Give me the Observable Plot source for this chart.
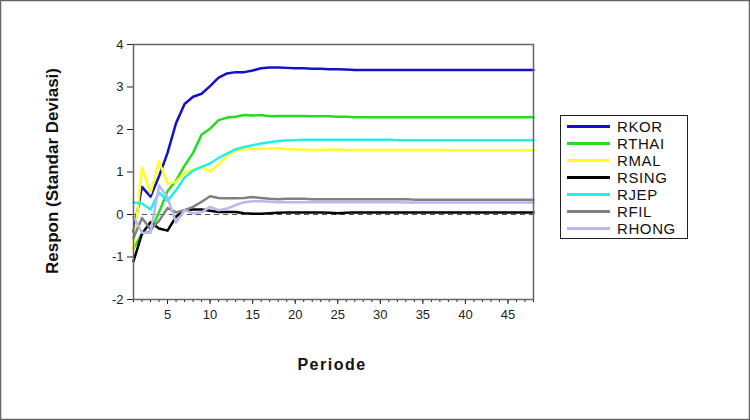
<!DOCTYPE html>
<html><head><meta charset="utf-8">
<script src="https://cdn.jsdelivr.net/npm/d3@7"></script>
<script src="https://cdn.jsdelivr.net/npm/@observablehq/plot@0.6"></script>
<style>
body{margin:0;background:#fff;font-family:"Liberation Sans",Arial,sans-serif}
#wrap{position:relative;width:750px;height:420px}
#legend{position:absolute;left:560px;top:115px;width:128px;height:124px;border:1px solid #222;background:#fff;box-sizing:border-box}
.row{position:absolute;left:6px;height:17px;display:flex;align-items:center;font-size:15px;letter-spacing:0.6px;color:#111;line-height:17px}
.sw{width:43px;height:3px;margin-right:7px}
</style></head><body><div id="wrap"></div>
<script>
const periods = [1,2,3,4,5,6,7,8,9,10,11,12,13,14,15,16,17,18,19,20,21,22,23,24,25,26,27,28,29,30,31,32,33,34,35,36,37,38,39,40,41,42,43,44,45,46,47,48];
const seriesNames = ["RKOR","RTHAI","RMAL","RSING","RJEP","RFIL","RHONG"];
const seriesColors = ["#1212c8","#22dd22","#ffff22","#000000","#22eeee","#808080","#b8b8f0"];
const xTickLabels = [5,10,15,20,25,30,35,40,45];
const yTickLabels = [-2,-1,0,1,2,3,4];

const RKOR  = [-0.40,0.65,0.42,0.90,1.45,2.15,2.60,2.77,2.84,3.02,3.22,3.32,3.35,3.35,3.39,3.44,3.46,3.46,3.45,3.44,3.44,3.43,3.43,3.42,3.42,3.41,3.40,3.40,3.40,3.40,3.40,3.40,3.40,3.40,3.40,3.40,3.40,3.40,3.40,3.40,3.40,3.40,3.40,3.40,3.40,3.40,3.40,3.40];
const RTHAI = [-0.80,-0.45,-0.40,0.05,0.55,0.80,1.15,1.45,1.88,2.02,2.22,2.28,2.30,2.34,2.33,2.34,2.31,2.32,2.32,2.32,2.32,2.31,2.31,2.31,2.30,2.30,2.29,2.29,2.29,2.29,2.29,2.29,2.29,2.29,2.29,2.29,2.29,2.29,2.29,2.29,2.29,2.29,2.29,2.29,2.29,2.29,2.29,2.29];
const RMAL  = [-0.80,1.10,0.50,1.25,0.72,0.77,0.98,1.06,1.10,1.02,1.18,1.38,1.50,1.54,1.54,1.55,1.55,1.56,1.54,1.53,1.53,1.52,1.52,1.53,1.53,1.52,1.52,1.52,1.52,1.52,1.52,1.52,1.52,1.52,1.52,1.52,1.52,1.51,1.51,1.51,1.51,1.51,1.51,1.51,1.51,1.51,1.51,1.51];
const RSING = [-1.10,-0.45,-0.18,-0.33,-0.38,-0.05,0.10,0.12,0.12,0.09,0.06,0.06,0.06,0.03,0.02,0.02,0.03,0.04,0.05,0.05,0.05,0.05,0.05,0.04,0.03,0.04,0.05,0.05,0.05,0.05,0.05,0.05,0.05,0.05,0.05,0.05,0.05,0.05,0.05,0.05,0.05,0.05,0.05,0.05,0.05,0.05,0.05,0.05];
const RJEP  = [0.28,0.26,0.12,0.52,0.32,0.57,0.87,1.03,1.12,1.20,1.33,1.43,1.53,1.59,1.63,1.67,1.70,1.73,1.74,1.75,1.76,1.76,1.76,1.76,1.76,1.76,1.76,1.76,1.76,1.76,1.76,1.75,1.75,1.75,1.75,1.75,1.75,1.75,1.75,1.75,1.75,1.75,1.75,1.75,1.75,1.75,1.75,1.75];
const RFIL  = [-0.55,-0.08,-0.35,-0.15,0.15,0.05,0.10,0.18,0.30,0.43,0.39,0.38,0.38,0.39,0.41,0.39,0.37,0.36,0.37,0.37,0.37,0.36,0.36,0.36,0.36,0.36,0.36,0.36,0.36,0.36,0.36,0.36,0.36,0.35,0.35,0.35,0.35,0.35,0.35,0.35,0.35,0.35,0.35,0.35,0.35,0.35,0.35,0.35];
const RHONG = [-0.05,-0.43,-0.43,0.68,0.40,-0.19,0.10,0.03,0.05,0.18,0.10,0.14,0.22,0.29,0.31,0.31,0.30,0.29,0.29,0.29,0.29,0.29,0.29,0.29,0.29,0.29,0.29,0.29,0.29,0.29,0.29,0.29,0.28,0.28,0.28,0.28,0.28,0.28,0.28,0.28,0.28,0.28,0.28,0.28,0.28,0.28,0.28,0.28];

const seriesValues = [RKOR,RTHAI,RMAL,RSING,RJEP,RFIL,RHONG];
const data = seriesNames.flatMap((s,i)=>periods.map((p,j)=>({s, p, v: seriesValues[i][j]})));

const chart = Plot.plot({
  width:750, height:420,
  marginLeft:133, marginRight:217, marginTop:44, marginBottom:121,
  style:{fontFamily:"'Liberation Sans', Arial, sans-serif", fontSize:"13px", color:"#222", background:"#fff"},
  x:{domain:[1,48]},
  y:{domain:[-2,4]},
  color:{domain:seriesNames, range:seriesColors},
  marks:[
    Plot.ruleY([0],{stroke:"#555", strokeDasharray:"5,4", strokeWidth:1}),
    Plot.axisY({ticks:yTickLabels, tickSize:6, tickPadding:4, label:null, fontSize:13, tickFormat:d=>String(d)}),
    Plot.axisX({ticks:periods, tickSize:3, tickFormat:()=>"", label:null}),
    Plot.axisX({ticks:xTickLabels, tickSize:5, tickPadding:5, label:null, fontSize:13, tickFormat:d=>String(d)}),
    Plot.line(data,{x:"p", y:"v", z:"s", stroke:"s", strokeWidth:2.5, curve:"linear"}),
    Plot.frame({stroke:"#666", strokeWidth:1.5})
  ]
});

const svg = d3.select(chart);
svg.append("rect").attr("x",0.5).attr("y",0.5).attr("width",749).attr("height",419)
  .attr("fill","none").attr("stroke","#666").attr("stroke-width",1.5);
svg.append("text").attr("transform","translate(54,171) rotate(-90)")
  .attr("text-anchor","middle").attr("dominant-baseline","middle")
  .attr("font-weight","bold").attr("font-size",17).attr("fill","#111")
  .text("Respon (Standar Deviasi)");
svg.append("text").attr("x",332).attr("y",370)
  .attr("text-anchor","middle").attr("font-weight","bold").attr("font-size",16)
  .attr("letter-spacing","1.5px").attr("fill","#111")
  .text("Periode");

const wrap = document.getElementById("wrap");
wrap.appendChild(chart);
const legend = document.createElement("div");
legend.id = "legend";
seriesNames.forEach((s,i)=>{
  const row = document.createElement("div");
  row.className = "row";
  row.style.top = (2 + i*17) + "px";
  const sw = document.createElement("span");
  sw.className = "sw";
  sw.style.background = seriesColors[i];
  const t = document.createElement("span");
  t.textContent = s;
  row.appendChild(sw); row.appendChild(t);
  legend.appendChild(row);
});
wrap.appendChild(legend);
</script>
</body></html>
